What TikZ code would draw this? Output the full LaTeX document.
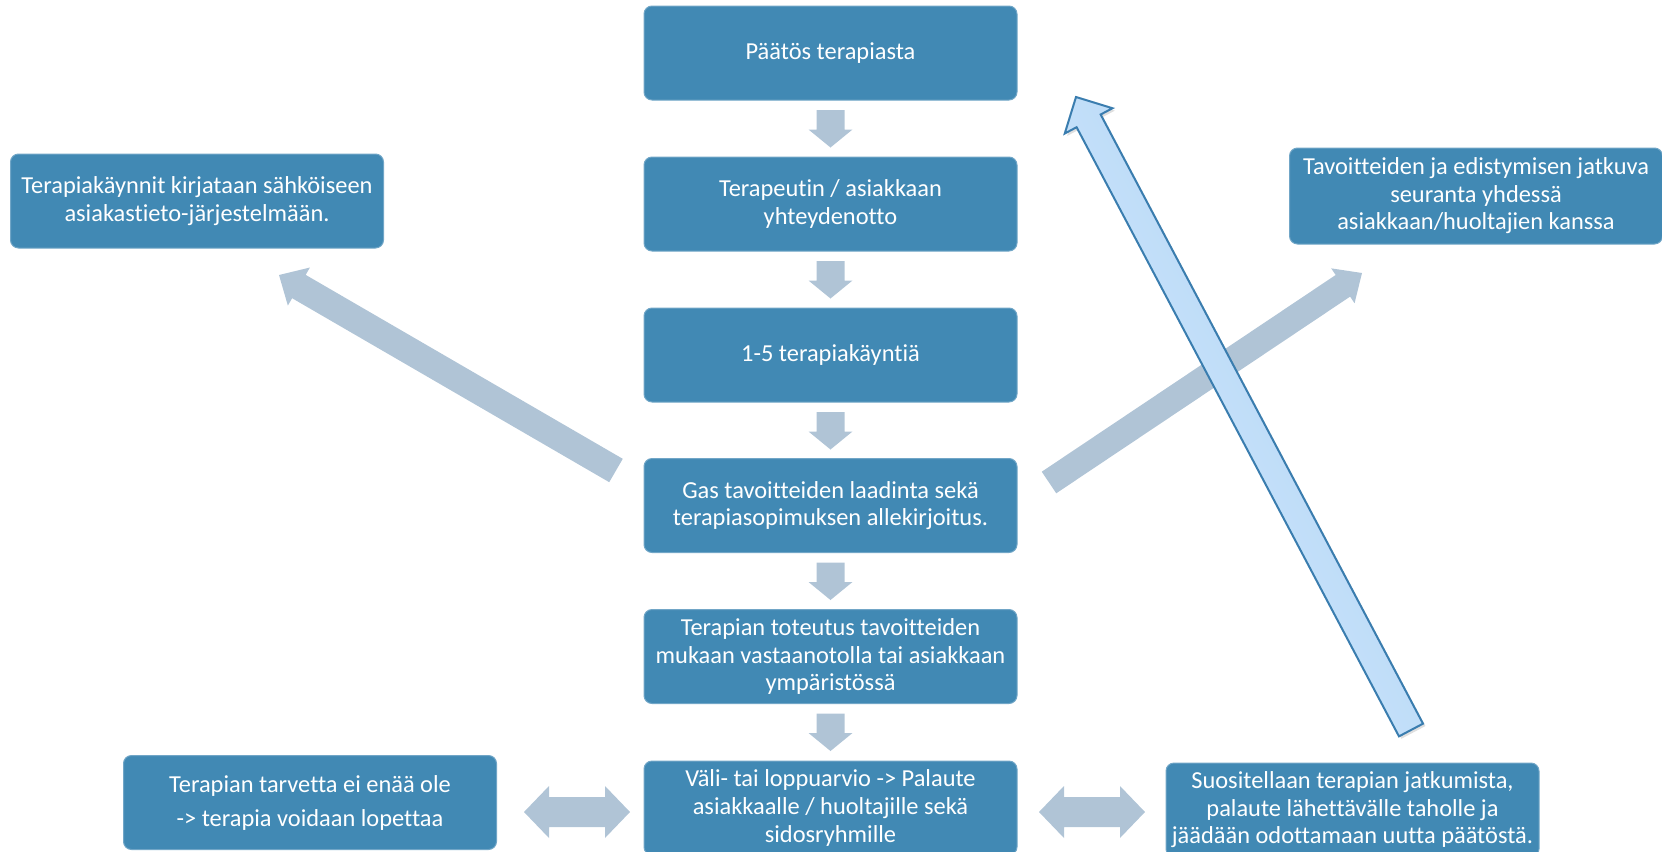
\documentclass[tikz,border=0pt]{standalone}
\usepackage{fontspec}
\setmainfont{Carlito}[Ligatures={NoCommon}]
\usetikzlibrary{calc,shadows}
\definecolor{boxblue}{RGB}{65,137,180}
\definecolor{arrowgray}{RGB}{176,196,214}
\definecolor{bigedge}{RGB}{58,125,175}
\definecolor{bigleft}{RGB}{216,235,252}
\definecolor{bigright}{RGB}{170,209,245}
\newcommand\myblockarrow[6]{% style, tail, tip, shaft half, head half, head length
  \coordinate (ba-h) at ($(#3)!#6!(#2)$);
  \path[#1] ($(#2)!#4!90:(#3)$) -- ($(ba-h)!#4!90:(#3)$) -- ($(ba-h)!#5!90:(#3)$) -- (#3)
    -- ($(ba-h)!#5!-90:(#3)$) -- ($(ba-h)!#4!-90:(#3)$) -- ($(#2)!#4!-90:(#3)$) -- cycle;
}
\newcommand\mydoublearrow[6]{% style, end A, end B, shaft half, head half, head length
  \coordinate (da-h1) at ($(#2)!#6!(#3)$);
  \coordinate (da-h2) at ($(#3)!#6!(#2)$);
  \path[#1] (#2) -- ($(da-h1)!#5!90:(#3)$) -- ($(da-h1)!#4!90:(#3)$) -- ($(da-h2)!#4!-90:(#2)$)
    -- ($(da-h2)!#5!-90:(#2)$) -- (#3) -- ($(da-h2)!#5!90:(#2)$) -- ($(da-h2)!#4!90:(#2)$)
    -- ($(da-h1)!#4!-90:(#3)$) -- ($(da-h1)!#5!-90:(#3)$) -- cycle;
}
\tikzset{
  box/.style={rectangle, rounded corners=4pt, fill=boxblue, draw=boxblue!75!white, line width=0.5pt,
    text=white, align=center, minimum width=186.5pt, minimum height=47pt, inner sep=2pt,
    font=\fontsize{12.2}{13.8}\selectfont},
  grayarrow/.style={fill=arrowgray},
  bigarrow/.style={draw=bigedge, line width=1pt, left color=bigleft, right color=bigright,
    shading angle=118, line join=miter,
    drop shadow={opacity=0.25, shadow xshift=1.2pt, shadow yshift=-1.2pt}},
}
\begin{document}
\begin{tikzpicture}[x=0.5pt,y=-0.5pt]
\useasboundingbox (0,0) rectangle (1662,852);
% main column
\node[box] (b1) at (830.5,53) {Päätös terapiasta};
\node[box] (b2) at (830.5,204) {Terapeutin / asiakkaan\\yhteydenotto};
\node[box] (b3) at (830.5,355) {1-5 terapiakäyntiä};
\node[box] (b4) at (830.5,505.5) {Gas tavoitteiden laadinta sekä\\terapiasopimuksen allekirjoitus.};
\node[box] (b5) at (830.5,656.5) {Terapian toteutus tavoitteiden\\mukaan vastaanotolla tai asiakkaan\\ympäristössä};
\node[box] (b6) at (830.5,808) {Väli- tai loppuarvio -> Palaute\\asiakkaalle / huoltajille sekä\\sidosryhmille};
% side boxes
\node[box] (l1) at (197,201) {Terapiakäynnit kirjataan sähköiseen\\asiakastieto-järjestelmään.};
\node[box, minimum height=48pt] (r1) at (1476,196) {Tavoitteiden ja edistymisen jatkuva\\seuranta yhdessä\\asiakkaan/huoltajien kanssa};
\node[box] (bl) at (310,802.5) {Terapian tarvetta ei enää ole\\[3.2pt]-> terapia voidaan lopettaa};
\node[box] (br) at (1352.5,810) {Suositellaan terapian jatkumista,\\palaute lähettävälle taholle ja\\jäädään odottamaan uutta päätöstä.};
% down arrows
\foreach \a/\b in {b1/b2,b2/b3,b3/b4,b4/b5,b5/b6}{
  \coordinate (\a-t) at ([yshift=-4.8pt]\a.south);
  \coordinate (\a-p) at ([yshift=-23.5pt]\a.south);
  \myblockarrow{grayarrow}{\a-t}{\a-p}{7pt}{11pt}{9pt}
}
% diagonal arrows
\coordinate (dl-t) at (616,470.5);
\coordinate (dl-p) at (279,275);
\myblockarrow{grayarrow}{dl-t}{dl-p}{6.75pt}{11pt}{11.5pt}
\coordinate (dr-t) at (1049,482.5);
\coordinate (dr-p) at (1362,273);
\myblockarrow{grayarrow}{dr-t}{dr-p}{6.5pt}{10.5pt}{11.5pt}
% double arrows
\coordinate (dbl-a) at (524,812);
\coordinate (dbl-b) at (630,812);
\mydoublearrow{grayarrow}{dbl-a}{dbl-b}{7.5pt}{13pt}{12.5pt}
\coordinate (dbr-a) at (1039,812);
\coordinate (dbr-b) at (1145,812);
\mydoublearrow{grayarrow}{dbr-a}{dbr-b}{7.5pt}{13pt}{12.5pt}
% big return arrow
\coordinate (big-t) at (1411,730);
\coordinate (big-p) at (1076,97);
\myblockarrow{bigarrow}{big-t}{big-p}{6.8pt}{13.5pt}{13.5pt}
\end{tikzpicture}
\end{document}
